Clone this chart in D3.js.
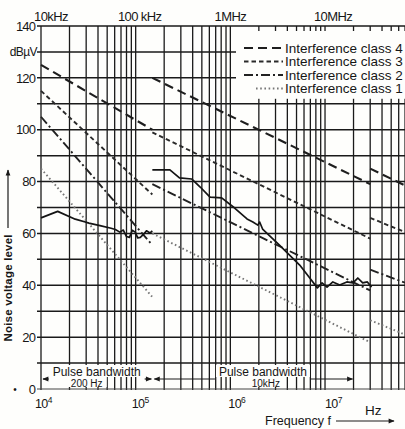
<!DOCTYPE html>
<html><head><meta charset="utf-8">
<script src="https://cdn.jsdelivr.net/npm/d3@7"></script>
<style>
body{margin:0;background:#fff}
svg{display:block}
text{font-family:"Liberation Sans",Arial,sans-serif;fill:#161616}
</style>
</head><body><svg id="c" width="405" height="429"></svg>
<script>
// ---------- data ----------
const yTickValues = [0,20,40,60,80,100,120,140];
const yUnit = "dBµV";
const yUnitLevel = 130;
const xDecades = [1e4,1e5,1e6,1e7];
const xDecadeExp = ["4","5","6","7"];
const topLabels = ["10kHz","100 kHz","1MHz","10MHz"];
const classNames = ["Interference class 4","Interference class 3","Interference class 2","Interference class 1"];
// limit lines: segments [f1, dB1, f2, dB2]
const class4 = [[1e4,125,1.5e5,100],[1.5e5,120,3e7,79],[3e7,85,7e7,78.5]];
const class3 = [[1e4,115,1.5e5,75],[1.5e5,99,3e7,58],[3e7,66,7e7,60.5]];
const class2 = [[1e4,105,1.5e5,55.5],[1.5e5,79,3e7,38],[3e7,46,7e7,41]];
const class1 = [[1e4,85,1.5e5,35.5],[1.5e5,60,3e7,18],[3e7,26.5,7e7,21]];
// measured noise voltage (solid curves)
const noiseA_f  = [1e4,1.5e4,2.3e4,3.2e4,4.2e4,5.5e4,6.1e4,6.8e4,7.4e4,8.0e4,8.6e4,9.2e4,9.9e4,1.05e5,1.12e5,1.2e5,1.3e5,1.42e5,1.5e5];
const noiseA_db = [66,68.5,65.5,64,63,62,61.5,60.5,61.3,58.8,58.5,61.2,60.5,58.3,58.5,59.5,61,60.2,61];
const noiseB_f  = [1.5e5,2.3e5,2.9e5,3.9e5,4.8e5,6.1e5,8.1e5,1.11e6,1.5e6,1.73e6,1.95e6,2.04e6,2.19e6,3.3e6,5.4e6,6.9e6,8.3e6,9.3e6,1.05e7,1.21e7,1.43e7,1.7e7,1.97e7,2.22e7,2.5e7,2.8e7,3.1e7];
const noiseB_db = [84.5,84.5,81.4,81,77.9,74,73.7,69.8,65.6,64.4,63.2,64.4,61.7,55.5,47.8,42.8,39,40.9,39.3,41.3,40.1,41.3,40.9,42.8,40.9,41.3,39.3];
// pulse bandwidth annotation
const bandStart = [1e4,1.5e5];
const bandEnd = [1.5e5,2e7];
const bandWidthText = ["200 Hz","10kHz"];
const bandTitle = "Pulse bandwidth";
const yTitle = "Noise voltage level";
const xTitle = "Frequency f";
const xUnit = "Hz";

// ---------- drawing ----------
const W=405,H=429;
const svg=d3.select("#c");
const x=d3.scaleLog().domain([1e4,1e8]).range([41,419.7]);
const y=d3.scaleLinear().domain([0,140]).range([389,26]);
const L=x(1e4),R=W,T=y(140),B=y(0);
const ink="#1a1a1a";

svg.append("rect").attr("width",W).attr("height",H).attr("fill","#fefefc");
const defs=svg.append("defs");
defs.append("clipPath").attr("id","clip").append("rect")
  .attr("x",L-1).attr("y",T-2).attr("width",R-L+2).attr("height",B-T+4);
defs.append("marker").attr("id","ah").attr("viewBox","0 0 10 10")
  .attr("refX",9).attr("refY",5).attr("markerWidth",7).attr("markerHeight",6)
  .attr("orient","auto-start-reverse").attr("markerUnits","userSpaceOnUse")
  .append("path").attr("d","M0,1L10,5L0,9Z").attr("fill",ink);

const grid=svg.append("g").attr("clip-path","url(#clip)");
// vertical log grid
grid.selectAll("line.v").data(x.ticks()).join("line")
  .attr("x1",d=>x(d)).attr("x2",d=>x(d)).attr("y1",T).attr("y2",B+1)
  .attr("stroke",ink).attr("stroke-width",1.3);
// horizontal grid
svg.append("g").selectAll("line.h").data(d3.range(0,141,10)).join("line")
  .attr("x1",L-4).attr("x2",R).attr("y1",d=>y(d)).attr("y2",d=>y(d))
  .attr("stroke",d=>d===0?"#444":ink).attr("stroke-width",d=>d===0?1.1:1.5);

// legend box blanks the grid
const lg=svg.append("g");
lg.append("rect").attr("x",236).attr("y",T+5).attr("width",R-236).attr("height",y(110)-T-10).attr("fill","#fefefc");

// pulse bandwidth annotation backgrounds
const bandDx=[0,10], band2Dx=[-10,3];
const ann=svg.append("g");
bandStart.forEach((f,i)=>{
  const mid=(x(f)+x(bandEnd[i]))/2+bandDx[i];
  ann.append("rect").attr("x",mid-47).attr("y",365).attr("width",94).attr("height",12).attr("fill","#fefefc");
  ann.append("rect").attr("x",mid+band2Dx[i]-20).attr("y",377).attr("width",40).attr("height",10).attr("fill","#fefefc");
});

// limit lines
const styles=[
  {d:class4,dash:"9,5",w:2.1,c:"#1e1e1e"},
  {d:class3,dash:"4.5,3",w:1.9,c:"#2a2a2a"},
  {d:class2,dash:"9,3,2,3",w:1.9,c:"#222"},
  {d:class1,dash:"1.6,2.6",w:1.9,c:"#777"}
];
const lim=svg.append("g").attr("clip-path","url(#clip)");
styles.forEach(s=>{
  lim.selectAll(null).data(s.d).join("line")
    .attr("x1",d=>x(d[0])).attr("y1",d=>y(d[1])).attr("x2",d=>x(d[2])).attr("y2",d=>y(d[3]))
    .attr("stroke",s.c).attr("stroke-width",s.w).attr("stroke-dasharray",s.dash);
});

// noise curves
const line=d3.line().x(d=>x(d[0])).y(d=>y(d[1])).curve(d3.curveLinear);
[[noiseA_f,noiseA_db],[noiseB_f,noiseB_db]].forEach(([fs,ds])=>{
  svg.append("path").attr("d",line(fs.map((f,i)=>[f,ds[i]])))
    .attr("fill","none").attr("stroke","#141414").attr("stroke-width",1.7).attr("stroke-linejoin","round");
});

// legend entries
classNames.forEach((n,i)=>{
  const yy=48+i*13.5;
  lg.append("line").attr("x1",i===3?256:244).attr("x2",283).attr("y1",yy).attr("y2",yy)
    .attr("stroke",styles[i].c).attr("stroke-width",styles[i].w).attr("stroke-dasharray",styles[i].dash);
  lg.append("text").attr("x",285).attr("y",yy+4.5).attr("font-size",13.5).text(n);
});

// pulse bandwidth text and arrows
bandStart.forEach((f,i)=>{
  const x1=x(f), x2=x(bandEnd[i]);
  const mid=(x1+x2)/2+bandDx[i];
  ann.append("text").attr("x",mid).attr("y",376).attr("text-anchor","middle").attr("font-size",12).text(bandTitle);
  ann.append("text").attr("x",mid+band2Dx[i]).attr("y",386.5).attr("text-anchor","middle").attr("font-size",10).text(bandWidthText[i]);
  ann.append("line").attr("x1",mid-48).attr("x2",x1+2).attr("y1",379).attr("y2",379)
    .attr("stroke",ink).attr("stroke-width",1.2).attr("marker-end","url(#ah)");
  ann.append("line").attr("x1",mid+48).attr("x2",x2-1).attr("y1",379).attr("y2",379)
    .attr("stroke",ink).attr("stroke-width",1.2).attr("marker-end","url(#ah)");
});

// y tick labels
const ax=svg.append("g");
ax.selectAll("text.yt").data(yTickValues).join("text")
  .attr("x",35).attr("y",d=>y(d)).attr("dy","0.36em").attr("text-anchor","end")
  .attr("font-size",13).attr("letter-spacing","-0.9").text(d=>d);
ax.append("text").attr("x",37).attr("y",y(yUnitLevel)).attr("dy","0.36em").attr("text-anchor","end")
  .attr("font-size",12).attr("letter-spacing","-0.6").text(yUnit);
ax.append("text").attr("x",15).attr("y",y(0)).attr("dy","0.36em").attr("text-anchor","middle").attr("font-size",10).text("•");

// top frequency labels
const topDx=[10,4,0,8];
ax.selectAll("text.tl").data(xDecades).join("text")
  .attr("x",(d,i)=>x(d)+topDx[i]).attr("y",21).attr("text-anchor","middle")
  .attr("font-size",13).attr("letter-spacing","-0.6").text((d,i)=>topLabels[i]);

// bottom decade labels
xDecades.forEach((d,i)=>{
  const t=ax.append("text").attr("x",x(d)-6+i*2).attr("y",408).attr("font-size",12.5).attr("letter-spacing","-0.6");
  t.append("tspan").text("10");
  t.append("tspan").attr("dy",-5).attr("font-size",8.5).text(xDecadeExp[i]);
});

// x title
ax.append("text").attr("x",265).attr("y",425).attr("font-size",12.5).text(xTitle);
ax.append("line").attr("x1",336).attr("x2",394).attr("y1",421).attr("y2",421)
  .attr("stroke",ink).attr("stroke-width",1).attr("marker-end","url(#ah)");
ax.append("text").attr("x",365).attr("y",415).attr("font-size",13.5).text(xUnit);

// y title
ax.append("text").attr("transform","translate(12,288) rotate(-90)").attr("text-anchor","middle")
  .attr("font-size",11.5).attr("font-weight","bold").attr("textLength",107).text(yTitle);
ax.append("line").attr("x1",8).attr("x2",8).attr("y1",228).attr("y2",170)
  .attr("stroke",ink).attr("stroke-width",1.2).attr("marker-end","url(#ah)");
</script>
</body></html>
